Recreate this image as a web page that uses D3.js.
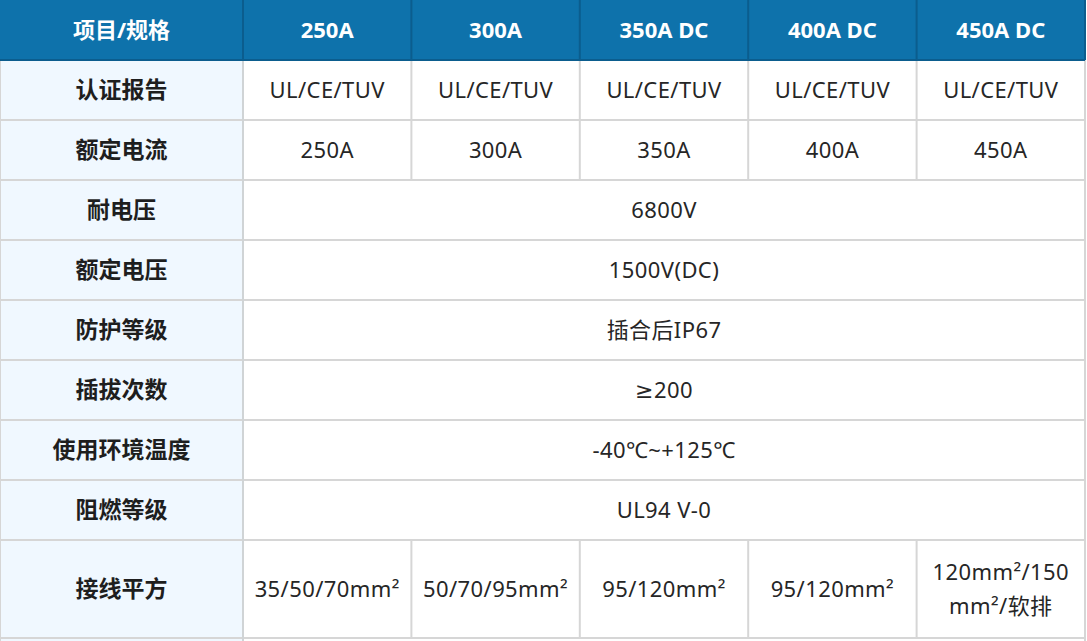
<!DOCTYPE html>
<html>
<head>
<meta charset="utf-8">
<script src="https://cdn.jsdelivr.net/npm/d3@7"></script>
<style>
  html, body { margin: 0; padding: 0; background: #fff; }
  svg { display: block; }
</style>
</head>
<body>
<div id="table-holder"></div>
<script>
// header cells
var corner = "项目/规格";
var specs = ["250A", "300A", "350A DC", "400A DC", "450A DC"];

// row labels
var items = ["认证报告", "额定电流", "耐电压", "额定电压", "防护等级", "插拔次数", "使用环境温度", "阻燃等级", "接线平方"];

// row values: one value = spans all spec columns
var certs = ["UL/CE/TUV", "UL/CE/TUV", "UL/CE/TUV", "UL/CE/TUV", "UL/CE/TUV"];
var ratedCurrent = ["250A", "300A", "350A", "400A", "450A"];
var withstand = ["6800V"];
var ratedVoltage = ["1500V(DC)"];
var protection = ["插合后IP67"];
var matingCycles = ["≥200"];
var temperature = ["-40℃~+125℃"];
var flame = ["UL94 V-0"];
var wireSize = ["35/50/70mm²", "50/70/95mm²", "95/120mm²", "95/120mm²", "120mm²/150mm²/软排"];

var values = [certs, ratedCurrent, withstand, ratedVoltage, protection, matingCycles, temperature, flame, wireSize];

var width = 1087, height = 641;
var firstCol = 243, right = 1085;
var headH = 60, rowH = 60, lastRowH = 98;
var fontFam = "'Noto Sans', 'DejaVu Sans', 'Noto Sans CJK SC', sans-serif";
var boldFam = "'Noto Sans', 'Noto Sans CJK SC', sans-serif";

var x = d3.scaleBand().domain(d3.range(specs.length)).range([firstCol, right]);

// row tops
var rowTop = [];
var acc = headH;
items.forEach(function(d, i) {
  rowTop.push(acc);
  acc += (i === items.length - 1) ? lastRowH : rowH;
});
function rowHeight(i) { return i === items.length - 1 ? lastRowH : rowH; }

var svg = d3.select("#table-holder").append("svg")
  .attr("width", width)
  .attr("height", height);

// header
svg.append("rect").attr("x", 0).attr("y", 0).attr("width", right).attr("height", headH).attr("fill", "#0e72ab");

// body backgrounds
svg.append("rect").attr("x", 0).attr("y", headH).attr("width", firstCol).attr("height", height - headH).attr("fill", "#f0f8ff");

function addText(g, cx, cy, txt, opts) {
  var t = g.append("text")
    .attr("x", cx)
    .attr("text-anchor", "middle")
    .attr("font-family", opts.family || fontFam)
    .attr("font-size", opts.size)
    .attr("font-weight", opts.weight || "normal")
    .attr("letter-spacing", opts.spacing || 0)
    .attr("fill", opts.color);
  // wrap char by char if too wide
  var lines = [];
  if (opts.maxW) {
    var cur = "";
    t.text("");
    for (var ch of txt) {
      t.text(cur + ch);
      if (t.node().getComputedTextLength() > opts.maxW && cur.length) {
        lines.push(cur);
        cur = ch;
      } else {
        cur += ch;
      }
    }
    lines.push(cur);
  } else {
    lines = [txt];
  }
  t.text(null);
  var lh = opts.lineH || 34;
  var y0 = cy - (lines.length - 1) * lh / 2;
  lines.forEach(function(l, i) {
    t.append("tspan").attr("x", cx).attr("y", y0 + i * lh).attr("dy", "0.35em").text(l);
  });
}

var grid = svg.append("g");
var labels = svg.append("g");

// header text
addText(labels, firstCol / 2, headH / 2, corner, {size: 22, weight: "bold", color: "#fff", family: boldFam});
specs.forEach(function(s, i) {
  addText(labels, x(i) + x.bandwidth() / 2, headH / 2, s, {size: 22, weight: "bold", color: "#fff", family: boldFam});
});

// body text
items.forEach(function(item, r) {
  var cy = rowTop[r] + rowHeight(r) / 2;
  addText(labels, firstCol / 2, cy, item, {size: 23, weight: "bold", color: "#1e1e1e", family: boldFam});
  var vals = values[r];
  if (vals.length === 1) {
    addText(labels, (firstCol + right) / 2, cy, vals[0], {size: 22, color: "#262626", spacing: 0.4});
  } else {
    vals.forEach(function(v, c) {
      addText(labels, x(c) + x.bandwidth() / 2, cy, v, {size: 22, color: "#262626", spacing: 0.4, maxW: x.bandwidth() - 15});
    });
  }
});

// grid lines: horizontal body lines
var lineColor = "#d6d6d6";
items.forEach(function(item, r) {
  var yb = rowTop[r] + rowHeight(r);
  grid.append("line").attr("x1", 0).attr("x2", right).attr("y1", yb).attr("y2", yb)
    .attr("stroke", lineColor).attr("stroke-width", 2);
});
// vertical lines in body
grid.append("line").attr("x1", firstCol).attr("x2", firstCol).attr("y1", headH).attr("y2", height)
  .attr("stroke", "#d0d4d6").attr("stroke-width", 2);
items.forEach(function(item, r) {
  if (values[r].length > 1) {
    d3.range(1, specs.length).forEach(function(c) {
      grid.append("line").attr("x1", x(c)).attr("x2", x(c))
        .attr("y1", rowTop[r]).attr("y2", rowTop[r] + rowHeight(r))
        .attr("stroke", lineColor).attr("stroke-width", 2);
    });
  }
});
grid.append("line").attr("x1", right).attr("x2", right).attr("y1", headH).attr("y2", height)
  .attr("stroke", lineColor).attr("stroke-width", 2);
grid.append("line").attr("x1", 0.5).attr("x2", 0.5).attr("y1", headH).attr("y2", height)
  .attr("stroke", lineColor).attr("stroke-width", 1);

// header lines
var headLine = "#0b5d8e";
[firstCol].concat(d3.range(1, specs.length).map(function(c) { return x(c); })).concat([right]).forEach(function(px) {
  grid.append("line").attr("x1", px).attr("x2", px).attr("y1", 0).attr("y2", headH)
    .attr("stroke", headLine).attr("stroke-width", 2);
});
grid.append("line").attr("x1", 0).attr("x2", right).attr("y1", headH).attr("y2", headH)
  .attr("stroke", headLine).attr("stroke-width", 2);
</script>
</body>
</html>
